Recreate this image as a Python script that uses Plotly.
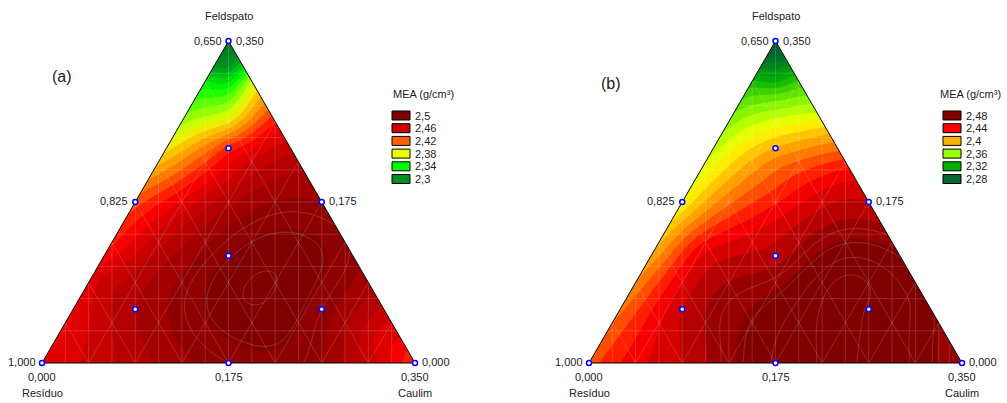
import numpy as np
import plotly.graph_objects as go

W, H = 1007, 403

# ---------------- data (pseudo-components: Caulim, Feldspato) ----------------
# design points of the mixture experiment
design_caulim = [0, 1, 0, 0.5, 0.5, 0, 1/3, 1/6, 1/6, 2/3]
design_feld   = [0, 0, 1, 0, 0.5, 0.5, 1/3, 2/3, 1/6, 1/6]

# (a) response at (caulim, feldspato) pseudo positions
a_caulim = [0, 0.014, 0.045, 0.065, 0.087, 0.107, 0.1275, 0.149, 1/6, 0.205, 0.258, 1/3, 0.4175, 0.5,
            0, 0, 0, 0, 0, 0, 0, 0,
            0.121, 0.174, 0.224, 0.276, 0.379, 0.5, 0.65, 0.8, 0.92, 1,
            0.155, 0.25, 0.75, 0.9,
            0.026, 1/6, 2/3, 0.871]
a_feld   = [1, 0.972, 0.910, 0.870, 0.826, 0.786, 0.745, 0.702, 2/3, 0.59, 0.484, 1/3, 0.165, 0,
            0.879, 0.776, 0.671, 0.59, 0.5, 0.351, 0.2, 0,
            0.879, 0.826, 0.776, 0.724, 0.621, 0.5, 0.35, 0.2, 0.08, 0,
            0, 0, 0, 0,
            0.258, 1/6, 1/6, 0.071]
mea_a    = [2.25, 2.27, 2.305, 2.33, 2.355, 2.37, 2.39, 2.415, 2.435, 2.455, 2.48, 2.50, 2.505, 2.495,
            2.33, 2.36, 2.385, 2.405, 2.425, 2.44, 2.45, 2.45,
            2.37, 2.40, 2.425, 2.45, 2.475, 2.49, 2.495, 2.475, 2.45, 2.43,
            2.465, 2.475, 2.49, 2.46,
            2.46, 2.48, 2.495, 2.455]

# (b) response
b_caulim = [0, 0.014, 0.045, 0.065, 0.087, 0.107, 0.1275, 0.149, 1/6, 0.1895, 0.216, 0.242, 0.278, 1/3, 0.4175, 0.5,
            0, 0, 0, 0, 0, 0, 0, 0,
            0.121, 0.224, 0.276, 0.329, 0.379, 0.432, 0.5, 0.649, 0.804, 1,
            0.083, 0.25, 0.75, 0.9,
            1/6, 2/3, 0.586, 0.086, 0.122]
b_feld   = [1, 0.972, 0.910, 0.870, 0.826, 0.786, 0.745, 0.702, 2/3, 0.621, 0.568, 0.516, 0.444, 1/3, 0.165, 0,
            0.879, 0.776, 0.671, 0.568, 0.5, 0.351, 0.196, 0,
            0.879, 0.776, 0.724, 0.671, 0.621, 0.568, 0.5, 0.351, 0.196, 0,
            0, 0, 0, 0,
            1/6, 1/6, 0.227, 0.102, 0.351]
mea_b    = [2.25, 2.27, 2.30, 2.32, 2.345, 2.36, 2.375, 2.39, 2.40, 2.415, 2.425, 2.435, 2.45, 2.465, 2.485, 2.49,
            2.32, 2.35, 2.365, 2.375, 2.38, 2.40, 2.415, 2.425,
            2.33, 2.37, 2.395, 2.415, 2.435, 2.45, 2.46, 2.48, 2.485, 2.47,
            2.44, 2.46, 2.495, 2.485,
            2.46, 2.495, 2.50, 2.44, 2.445]

levels_a = [2.5, 2.46, 2.42, 2.38, 2.34, 2.3]
colors_a = ['#800000', '#cc0000', '#ff6000', '#e8ff00', '#00ff00', '#009020']
levels_b = [2.48, 2.44, 2.4, 2.36, 2.32, 2.28]
colors_b = ['#800000', '#ff0000', '#ffb000', '#99ff00', '#00b000', '#006633']

scale_a = [(2.20, '#004d1f'), (2.30, '#009020'), (2.34, '#00ff00'), (2.38, '#e8ff00'),
           (2.40, '#ffb000'), (2.42, '#ff6000'), (2.44, '#ff0000'), (2.46, '#cc0000'),
           (2.50, '#800000'), (2.56, '#800000')]
scale_b = [(2.20, '#003d1f'), (2.28, '#006633'), (2.32, '#00b000'), (2.36, '#99ff00'),
           (2.38, '#ffff00'), (2.40, '#ffb000'), (2.42, '#ff6000'), (2.44, '#ff0000'),
           (2.48, '#800000'), (2.56, '#800000')]
# faint iso-lines visible inside the darkest region
iso_a = (2.495, 2.52, 0.006)
iso_b = (2.475, 2.51, 0.007)

res_ticks = ['1,000', '0,825', '0,650']
caulim_ticks = ['0,000', '0,175', '0,350']
feld_ticks = ['0,000', '0,175', '0,350']
panel_labels = ['(a)', '(b)']
legend_title = 'MEA (g/cm³)'

FONT = 'Arial, Liberation Sans, sans-serif'
S3 = np.sqrt(3) / 2
Z_LO, Z_HI, Z_STEP = 2.20, 2.56, 0.01
SMOOTH = 4e-4


def to_xy(c, f):
    c = np.asarray(c, float); f = np.asarray(f, float)
    return c + f / 2, f * S3


def tps(r):
    with np.errstate(divide='ignore', invalid='ignore'):
        out = r * r * np.log(r)
    return np.where(r > 0, out, 0.0)


def surface(cs, fs, vals, GX, GY):
    px_, py_ = to_xy(cs, fs)
    n = len(px_)
    d = np.hypot(px_[:, None] - px_[None, :], py_[:, None] - py_[None, :])
    K = tps(d) + np.eye(n) * SMOOTH
    P = np.column_stack([np.ones(n), px_, py_])
    A = np.zeros((n + 3, n + 3))
    A[:n, :n] = K; A[:n, n:] = P; A[n:, :n] = P.T
    rhs = np.concatenate([np.asarray(vals, float), np.zeros(3)])
    sol = np.linalg.solve(A, rhs)
    w, a = sol[:n], sol[n:]
    gx = GX.ravel(); gy = GY.ravel()
    r = np.hypot(gx[:, None] - px_[None, :], gy[:, None] - py_[None, :])
    z = tps(r) @ w + a[0] + a[1] * gx + a[2] * gy
    return z.reshape(GX.shape)


gx = np.linspace(0, 1, 251)
gy = np.linspace(0, 1, 251)
GX, GY = np.meshgrid(gx, gy)

fig = go.Figure()
pad = 0.02
tri_left_px = [42, 589]
tri_w = 373


def colorscale(stops):
    lo, hi = stops[0][0], stops[-1][0]
    return [[(v - lo) / (hi - lo), c] for v, c in stops]


annotations = []
shapes = []


def px(x):
    return x / W


def py(y):
    return 1 - y / H


def ann(x, y, text, xanchor='center', size=11):
    annotations.append(dict(x=px(x), y=py(y), xref='paper', yref='paper', text=text,
                            showarrow=False, xanchor=xanchor, yanchor='middle',
                            font=dict(family=FONT, size=size, color='#222')))


panels = [(a_caulim, a_feld, mea_a, scale_a, levels_a, colors_a, iso_a),
          (b_caulim, b_feld, mea_b, scale_b, levels_b, colors_b, iso_b)]

for k, (rc, rf, vals, stops, lev, cols, iso) in enumerate(panels):
    xa = 'x' if k == 0 else 'x2'
    ya = 'y' if k == 0 else 'y2'
    Z = surface(rc, rf, vals, GX, GY * S3)
    cs = colorscale(stops)
    fig.add_trace(go.Contour(x=gx, y=gy, z=Z, xaxis=xa, yaxis=ya, colorscale=cs,
                             zmin=Z_LO - Z_STEP/2, zmax=Z_HI + Z_STEP/2, zauto=False,
                             showscale=False,
                             contours=dict(start=Z_LO, end=Z_HI, size=Z_STEP, coloring='fill',
                                           showlines=False),
                             line=dict(width=0), hoverinfo='skip'))
    fig.add_trace(go.Contour(x=gx, y=gy, z=Z, xaxis=xa, yaxis=ya, showscale=False,
                             contours=dict(start=iso[0], end=iso[1], size=iso[2],
                                           coloring='none'),
                             line=dict(width=0.8, color='rgba(255,190,190,0.28)'),
                             hoverinfo='skip'))
    # faint mesh lines
    mx, my = [], []
    for i in range(1, 16):
        mx += [i/16, i/16, None]; my += [0, 1, None]
    for i in range(1, 10):
        mx += [0, 1, None]; my += [i/10, i/10, None]
    for i in range(-8, 9):
        c = i/8
        mx += [c, c + 0.5, None]; my += [0, 1, None]
        mx += [c, c - 0.5, None]; my += [0, 1, None]
    fig.add_trace(go.Scatter(x=mx, y=my, xaxis=xa, yaxis=ya, mode='lines',
                             line=dict(color='rgba(255,255,255,0.2)', width=0.8),
                             hoverinfo='skip', showlegend=False))
    # white masks outside the triangle
    e = 0.1
    fig.add_trace(go.Scatter(x=[0, 0.5, 0.5, -e, -e, 0], y=[0, 1, 1 + e, 1 + e, -e, -e],
                             xaxis=xa, yaxis=ya, mode='lines', fill='toself',
                             fillcolor='white', line=dict(width=0), hoverinfo='skip',
                             showlegend=False))
    fig.add_trace(go.Scatter(x=[1, 0.5, 0.5, 1 + e, 1 + e, 1], y=[0, 1, 1 + e, 1 + e, -e, -e],
                             xaxis=xa, yaxis=ya, mode='lines', fill='toself',
                             fillcolor='white', line=dict(width=0), hoverinfo='skip',
                             showlegend=False))
    fig.add_trace(go.Scatter(x=[0, 1, 0.5, 0], y=[0, 0, 1, 0], xaxis=xa, yaxis=ya,
                             mode='lines', line=dict(color='black', width=1),
                             hoverinfo='skip', showlegend=False))
    dx = [c + f/2 for c, f in zip(design_caulim, design_feld)]
    fig.add_trace(go.Scatter(x=dx, y=design_feld, xaxis=xa, yaxis=ya, mode='markers',
                             marker=dict(symbol='circle', size=5, color='white',
                                         line=dict(color='#0000ff', width=1.5)),
                             cliponaxis=False, hoverinfo='skip', showlegend=False))

    off = tri_left_px[k]
    ax = off + tri_w / 2          # apex x

    ann(ax, 16, 'Feldspato')
    ann(ax - 5, 41, res_ticks[2], 'right')
    ann(ax + 5, 41, feld_ticks[2], 'left')
    ann(off + tri_w/4 - 5, 201, res_ticks[1], 'right')
    ann(off + 3*tri_w/4 + 5, 201, feld_ticks[1], 'left')
    ann(off - 4, 362, res_ticks[0], 'right')
    ann(off + tri_w + 5, 362, feld_ticks[0], 'left')
    ann(off, 377, caulim_ticks[0])
    ann(ax, 377, caulim_ticks[1])
    ann(off + tri_w, 377, caulim_ticks[2])
    ann(off, 393, 'Resíduo')
    ann(off + tri_w, 393, 'Caulim')
    ann(off + 20 if k == 0 else off + 22, 76 if k == 0 else 84, panel_labels[k], size=16)

    # legend
    lx = 392 if k == 0 else 943
    ann(lx - 1 if k == 0 else lx - 5, 94, legend_title, 'left', size=11)
    for i, (lv, col) in enumerate(zip(lev, cols)):
        top = 111 + 12.7 * i
        shapes.append(dict(type='rect', xref='paper', yref='paper',
                           x0=px(lx), x1=px(lx + 18), y0=py(top + 9), y1=py(top),
                           fillcolor=col, line=dict(color='black', width=1)))
        ann(lx + 21, top + 4.5, str(lv).replace('.', ','), 'left')

fig.update_layout(
    width=W, height=H, margin=dict(l=0, r=0, t=0, b=0),
    paper_bgcolor='white', plot_bgcolor='white', showlegend=False,
    annotations=annotations, shapes=shapes,
)
for k in range(2):
    off = tri_left_px[k]
    xd = [(off - pad*tri_w) / W, (off + tri_w + pad*tri_w) / W]
    yd = [(H - 363 - pad*322) / H, (H - 41 + pad*322) / H]
    xn = 'xaxis' if k == 0 else 'xaxis2'
    yn = 'yaxis' if k == 0 else 'yaxis2'
    fig.update_layout({xn: dict(domain=xd, range=[-pad, 1 + pad], visible=False, fixedrange=True,
                                anchor='y' if k == 0 else 'y2'),
                       yn: dict(domain=yd, range=[-pad, 1 + pad], visible=False, fixedrange=True,
                                anchor='x' if k == 0 else 'x2')})

fig.write_html('out.html')
